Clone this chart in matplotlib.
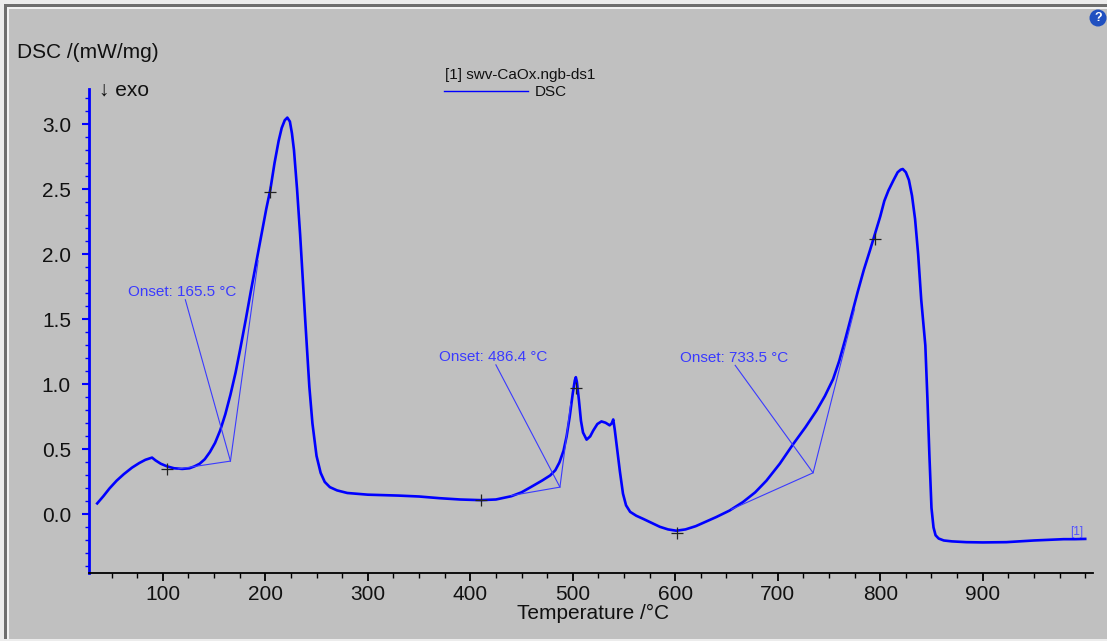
import matplotlib
matplotlib.use("Agg")
import matplotlib.pyplot as plt
from matplotlib.patches import Rectangle, Circle
from matplotlib.lines import Line2D
from matplotlib.transforms import IdentityTransform
from matplotlib.ticker import MultipleLocator

plt.rcParams['font.family'] = ['Liberation Sans', 'DejaVu Sans']

# DSC curve (temperature in degC, DSC in mW/mg)
temperature = [36, 42, 48, 55, 62, 70, 77, 83, 89.5, 93, 98, 104, 111, 119, 126, 131, 136,
               141, 146, 151, 156, 161, 166, 171, 176, 181, 186, 191, 196, 201, 205, 209,
               213, 216, 219, 221.5, 224, 226, 228, 231, 234, 239, 243, 246, 250, 254,
               258, 263, 270, 280, 300, 330, 350, 370, 390, 410, 425, 440, 450, 459, 470,
               478, 483, 487, 491, 494, 497, 500, 502, 503, 504, 506, 508, 510, 513.5,
               517, 520, 524, 528, 532, 536, 538, 539.5, 541, 543, 546, 549, 552, 556,
               562, 569, 577, 585, 593, 601, 610, 620, 630, 640, 653, 666, 678, 689, 702,
               715, 727, 738, 746, 754, 760, 766, 772, 778, 784, 790, 795, 800, 804, 808,
               813, 817, 820, 822, 825, 828, 831, 834, 837, 840, 844, 846, 848, 850, 852,
               854, 857, 862, 870, 884, 900, 923, 940, 950, 965, 979, 990, 1000]
dsc = [0.085, 0.14, 0.20, 0.26, 0.31, 0.36, 0.395, 0.42, 0.437, 0.415, 0.39, 0.37, 0.355,
       0.35, 0.355, 0.37, 0.39, 0.425, 0.48, 0.55, 0.646, 0.77, 0.92, 1.09, 1.29, 1.50,
       1.72, 1.93, 2.14, 2.35, 2.50, 2.70, 2.87, 2.97, 3.03, 3.05, 3.02, 2.93, 2.80, 2.50,
       2.15, 1.49, 0.98, 0.70, 0.45, 0.32, 0.25, 0.21, 0.185, 0.165, 0.152, 0.145, 0.138,
       0.125, 0.115, 0.11, 0.115, 0.14, 0.17, 0.21, 0.26, 0.30, 0.34, 0.40, 0.49, 0.60,
       0.75, 0.93, 1.03, 1.055, 1.02, 0.88, 0.72, 0.63, 0.575, 0.60, 0.645, 0.695, 0.715,
       0.705, 0.685, 0.70, 0.73, 0.65, 0.52, 0.33, 0.16, 0.07, 0.02, -0.01, -0.035, -0.065,
       -0.095, -0.115, -0.125, -0.115, -0.09, -0.055, -0.02, 0.03, 0.095, 0.17, 0.26, 0.39,
       0.54, 0.67, 0.80, 0.91, 1.04, 1.18, 1.35, 1.53, 1.71, 1.88, 2.03, 2.16, 2.29, 2.41,
       2.49, 2.57, 2.63, 2.65, 2.655, 2.63, 2.57, 2.45, 2.27, 2.0, 1.65, 1.3, 0.9, 0.45,
       0.05, -0.1, -0.16, -0.185, -0.2, -0.207, -0.213, -0.215, -0.213, -0.205, -0.2,
       -0.195, -0.19, -0.19, -0.188]

# '+' marks on the curve
mark_t = [104, 205, 410, 503, 602, 794.5]
mark_dsc = [0.35, 2.48, 0.11, 0.97, -0.14, 2.12]

# onset constructions: baseline start, vertex, tangent end, leader start, label anchor
onset_labels = ["Onset: 165.5 °C", "Onset: 486.4 °C", "Onset: 733.5 °C"]
base_start = [(115, 0.35), (440, 0.145), (655, 0.04)]
vertex = [(166, 0.41), (487.5, 0.21), (734.5, 0.32)]
tangent_end = [(193, 1.95), (498, 0.85), (775, 1.58)]
leader_start = [(122, 1.65), (425, 1.15), (658.5, 1.146)]
label_pos = [(66, 1.71), (369.5, 1.21), (604.7, 1.20)]

x_major = [100, 200, 300, 400, 500, 600, 700, 800, 900]
y_major = [0.0, 0.5, 1.0, 1.5, 2.0, 2.5, 3.0]

W, H = 1107, 641
fig = plt.figure(figsize=(W / 100, H / 100), dpi=100, facecolor='#c0c0c0')

# window frame
frame = [((0, H - 4), W, 4, '#ececec'), ((0, 0), 4, H, '#ececec'),
         ((4, H - 6.5), W, 2.5, '#6e6e6e'), ((4, 0), 2.5, H - 4, '#6e6e6e'),
         ((6.5, H - 8.5), W, 2, '#f2f2f2'), ((6.5, 0), 2, H - 6.5, '#f2f2f2'),
         ((0, 0), W, 2.5, '#ececec')]
for xy, w, h, c in frame:
    fig.patches.append(Rectangle(xy, w, h, facecolor=c, edgecolor='none',
                                 transform=IdentityTransform(), figure=fig))
fig.patches.append(Circle((1098, H - 18), 8.5, facecolor='#2050c0', edgecolor='none',
                          transform=IdentityTransform(), figure=fig))
fig.text(1098 / W, 1 - 18 / H, '?', color='white', fontsize=9, fontweight='bold',
         ha='center', va='center')

ax = fig.add_axes([89 / W, 1 - 573 / H, (1093 - 89) / W, (573 - 89) / H])
ax.set_facecolor('#c0c0c0')

ax.plot(temperature, dsc, color='#0000ff', lw=1.9, solid_joinstyle='round')
ax.plot(mark_t, mark_dsc, '+', color='#222222', ms=9, mew=0.9)

onset_color = '#3a3aff'
for i in range(len(onset_labels)):
    vx, vy = vertex[i]
    ax.plot([base_start[i][0], vx, tangent_end[i][0]],
            [base_start[i][1], vy, tangent_end[i][1]], color=onset_color, lw=0.8)
    ax.plot([leader_start[i][0], vx], [leader_start[i][1], vy], color=onset_color, lw=0.8)
    ax.text(label_pos[i][0], label_pos[i][1], onset_labels[i], color=onset_color,
            fontsize=11, ha='left', va='center')

ax.text(985, -0.136, '[1]', color='#5050ff', fontsize=8.5, ha='left', va='center')

ax.set_xlim(28, 1007.6)
ax.set_ylim(-0.45, 3.27)
ax.set_xticks(x_major)
ax.set_yticks(y_major)
ax.set_yticklabels([f"{v:.1f}" for v in y_major])
ax.xaxis.set_minor_locator(MultipleLocator(25))
ax.yaxis.set_minor_locator(MultipleLocator(0.1))

for s in ['top', 'right']:
    ax.spines[s].set_visible(False)
ax.spines['left'].set_color('#0000ff')
ax.spines['left'].set_linewidth(2)
ax.spines['bottom'].set_color('black')
ax.spines['bottom'].set_linewidth(1.3)

ax.tick_params(axis='y', which='major', direction='out', length=5, width=1.5,
               color='#0000ff', labelsize=15, labelcolor='#111111', pad=8)
ax.tick_params(axis='y', which='minor', direction='out', length=3, width=1,
               color='#0000ff')
ax.tick_params(axis='x', which='major', direction='out', length=6, width=1.3,
               color='black', labelsize=15, labelcolor='#111111', pad=3)
ax.tick_params(axis='x', which='minor', direction='out', length=3.5, width=1,
               color='black')

fig.text(17 / W, 1 - 52 / H, 'DSC /(mW/mg)', fontsize=15, color='#111111',
         ha='left', va='center')
fig.text(99 / W, 1 - 90 / H, '↓ exo', fontsize=15, color='#111111',
         ha='left', va='center')
fig.text(593 / W, 1 - 613 / H, 'Temperature /°C', fontsize=15, color='#111111',
         ha='center', va='center')

# legend block
fig.text(445 / W, 1 - 75.5 / H, '[1] swv-CaOx.ngb-ds1', fontsize=11, color='#111111',
         ha='left', va='center')
fig.lines.append(Line2D([444 / W, 528 / W], [1 - 90.7 / H, 1 - 90.7 / H],
                        color='#0000ff', lw=1, transform=fig.transFigure))
fig.text(535 / W, 1 - 91.5 / H, 'DSC', fontsize=11, color='#111111',
         ha='left', va='center')

fig.savefig('out.png', dpi=100, facecolor=fig.get_facecolor())
